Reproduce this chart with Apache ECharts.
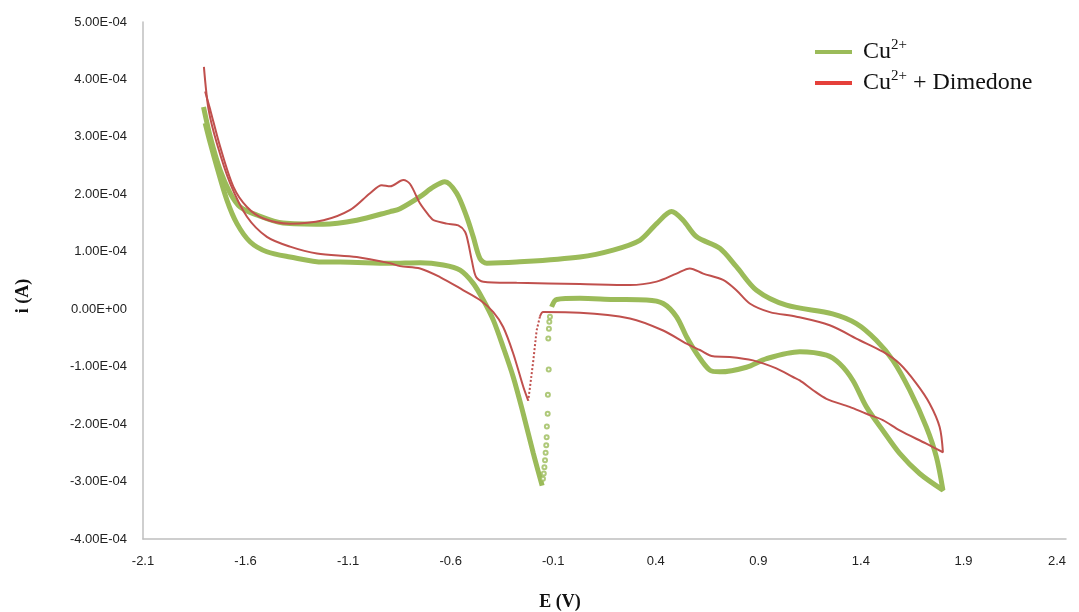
<!DOCTYPE html>
<html>
<head>
<meta charset="utf-8">
<title>Cyclic voltammogram</title>
<script src="https://cdn.jsdelivr.net/npm/echarts@6/dist/echarts.min.js"></script>
<style>
  html, body { margin: 0; padding: 0; background: #ffffff; }
  #chart { width: 1079px; height: 612px; }
</style>
</head>
<body>
<div id="chart"></div>
<script>
// Potential (V) tick labels on the horizontal axis
const xTicks = [-2.1, -1.6, -1.1, -0.6, -0.1, 0.4, 0.9, 1.4, 1.9, 2.4];

// Currents below are in units of 1e-4 A: pairs of [E (V), i]
const I_UNIT = 1e-4;

// Cu2+ : scan from -1.8 V to +1.8 V and back to the cathodic jump
const cuScanA = [
  [-1.805, 3.52], [-1.772, 3.00], [-1.724, 2.42], [-1.675, 2.02], [-1.626, 1.78],
  [-1.545, 1.64], [-1.417, 1.50], [-1.222, 1.48], [-1.058, 1.55], [-0.895, 1.70],
  [-0.847, 1.75], [-0.749, 1.96], [-0.684, 2.13], [-0.628, 2.22], [-0.571, 2.02],
  [-0.522, 1.61], [-0.490, 1.26], [-0.457, 0.88], [-0.424, 0.80], [-0.278, 0.82],
  [0.030, 0.91], [0.192, 1.03], [0.322, 1.20], [0.404, 1.49], [0.477, 1.70],
  [0.533, 1.55], [0.599, 1.26], [0.712, 1.06], [0.793, 0.74], [0.891, 0.33],
  [1.037, 0.07], [1.262, -0.08], [1.378, -0.25], [1.475, -0.54], [1.556, -0.89],
  [1.638, -1.41], [1.719, -2.05], [1.768, -2.57], [1.800, -3.15],
  [1.686, -2.86], [1.589, -2.51], [1.507, -2.11], [1.427, -1.70], [1.361, -1.24],
  [1.297, -0.95], [1.232, -0.80], [1.102, -0.74], [0.940, -0.86], [0.842, -1.01],
  [0.712, -1.09], [0.663, -1.06], [0.599, -0.77], [0.550, -0.48], [0.501, -0.13],
  [0.436, 0.10], [0.355, 0.16], [0.192, 0.17], [0.030, 0.19], [-0.083, 0.17],
  [-0.108, 0.04]
];

// Cu2+ : sparse points of the fast cathodic drop
const cuJump = [
  [-0.116, -0.13], [-0.119, -0.22], [-0.121, -0.34], [-0.124, -0.51], [-0.122, -1.05],
  [-0.126, -1.49], [-0.127, -1.82], [-0.131, -2.04], [-0.132, -2.23], [-0.134, -2.37],
  [-0.137, -2.50], [-0.140, -2.63], [-0.143, -2.75], [-0.146, -2.86], [-0.150, -2.95]
];

// Cu2+ : from the cathodic minimum back to -1.8 V
const cuScanB = [
  [-0.154, -3.07], [-0.197, -2.51], [-0.246, -1.82], [-0.295, -1.18], [-0.344, -0.66],
  [-0.392, -0.19], [-0.441, 0.16], [-0.490, 0.45], [-0.554, 0.68], [-0.636, 0.77],
  [-0.749, 0.81], [-0.895, 0.80], [-1.139, 0.82], [-1.222, 0.82], [-1.383, 0.91],
  [-1.496, 1.00], [-1.577, 1.17], [-1.642, 1.49], [-1.691, 1.90], [-1.740, 2.48],
  [-1.772, 2.89], [-1.797, 3.24]
];

// Cu2+ + Dimedone : forward scan and return to the cathodic jump
const dimScanA = [
  [-1.797, 3.79], [-1.772, 3.47], [-1.724, 2.83], [-1.659, 2.13], [-1.593, 1.78],
  [-1.513, 1.58], [-1.383, 1.49], [-1.220, 1.55], [-1.090, 1.73], [-0.993, 2.02],
  [-0.936, 2.16], [-0.895, 2.14], [-0.831, 2.25], [-0.798, 2.18], [-0.749, 1.84],
  [-0.701, 1.61], [-0.684, 1.55], [-0.620, 1.49], [-0.563, 1.46], [-0.530, 1.35],
  [-0.514, 1.15], [-0.497, 0.85], [-0.476, 0.56], [-0.441, 0.48], [-0.278, 0.46],
  [0.030, 0.44], [0.274, 0.42], [0.404, 0.48], [0.501, 0.62], [0.566, 0.71],
  [0.631, 0.62], [0.728, 0.51], [0.793, 0.33], [0.858, 0.10], [0.956, -0.05],
  [1.086, -0.13], [1.248, -0.28], [1.394, -0.54], [1.507, -0.74], [1.589, -0.95],
  [1.670, -1.29], [1.735, -1.64], [1.784, -2.05], [1.800, -2.49],
  [1.719, -2.34], [1.589, -2.11], [1.507, -1.93], [1.427, -1.82], [1.345, -1.70],
  [1.232, -1.56], [1.167, -1.41], [1.102, -1.24], [1.069, -1.18], [0.988, -1.03],
  [0.874, -0.89], [0.761, -0.83], [0.680, -0.82], [0.615, -0.71], [0.550, -0.60],
  [0.436, -0.37], [0.274, -0.16], [0.030, -0.06], [-0.149, -0.05], [-0.165, -0.13]
];

// Cu2+ + Dimedone : sparse points of the cathodic drop
const dimJump = [
  [-0.165, -0.13], [-0.181, -0.37], [-0.197, -0.89], [-0.213, -1.35], [-0.222, -1.59]
];

// Cu2+ + Dimedone : from the cathodic minimum back to -1.8 V
const dimScanB = [
  [-0.222, -1.59], [-0.246, -1.35], [-0.295, -0.77], [-0.344, -0.31], [-0.392, -0.05],
  [-0.457, 0.16], [-0.538, 0.33], [-0.652, 0.56], [-0.749, 0.71], [-0.847, 0.75],
  [-0.895, 0.80], [-1.058, 0.91], [-1.252, 0.97], [-1.383, 1.09], [-1.496, 1.26],
  [-1.593, 1.61], [-1.675, 2.19], [-1.740, 2.89], [-1.780, 3.47], [-1.803, 4.22]
];

const GREEN = '#9BBB59';
const RED = '#C0504D';
const NAME_CU = 'Cu2+';
const NAME_DIM = 'Cu2+ + Dimedone';

const toAmps = pts => pts.map(([e, i]) => [e, i * I_UNIT]);

// 5.00E-04 style labels
function sci(v) {
  if (Math.abs(v) < 1e-12) v = 0;
  const parts = v.toExponential(2).split('e');
  const n = parseInt(parts[1], 10);
  return parts[0] + 'E' + (n < 0 ? '-' : '+') + String(Math.abs(n)).padStart(2, '0');
}

const tickFont = { fontFamily: 'Liberation Sans', fontSize: 13, color: '#222' };
const axisLine = { show: true, onZero: false, lineStyle: { color: '#bfbfbf', width: 1.5 } };

const cuLine = data => ({
  name: NAME_CU, type: 'line', data: toAmps(data), smooth: 0.3,
  showSymbol: false, lineStyle: { color: GREEN, width: 5 }, itemStyle: { color: GREEN },
  z: 2, silent: true
});
const dimLine = (data, dotted) => ({
  name: NAME_DIM, type: 'line', data: toAmps(data), smooth: dotted ? 0 : 0.3,
  showSymbol: false, lineStyle: { color: RED, width: 2, type: dotted ? 'dotted' : 'solid' },
  itemStyle: { color: RED }, z: 3, silent: true
});

const chart = echarts.init(document.getElementById('chart'), null, { renderer: 'canvas' });
chart.setOption({
  animation: false,
  backgroundColor: '#ffffff',
  grid: { left: 143, right: 13, top: 22, bottom: 73 },
  xAxis: {
    type: 'value', min: -2.1, max: 2.4,
    axisLine: axisLine, axisTick: { show: false }, splitLine: { show: false },
    axisLabel: Object.assign({
      customValues: xTicks, margin: 16, alignMaxLabel: 'right',
      formatter: v => v.toFixed(1)
    }, tickFont)
  },
  yAxis: {
    type: 'value', min: -4e-4, max: 5e-4, interval: 1e-4,
    axisLine: axisLine, axisTick: { show: false }, splitLine: { show: false },
    axisLabel: Object.assign({ margin: 16, formatter: sci }, tickFont)
  },
  legend: {
    orient: 'vertical', left: 810, top: 33, itemWidth: 37, itemHeight: 4, itemGap: 5,
    icon: 'rect', selectedMode: false,
    data: [
      { name: NAME_CU, itemStyle: { color: GREEN } },
      { name: NAME_DIM, itemStyle: { color: '#E5403A' } }
    ],
    formatter: name => name === NAME_CU ? '{b|Cu}{s|2+}' : '{b|Cu}{s|2+}{b| + Dimedone}',
    textStyle: {
      padding: [0, 0, 0, 6],
      rich: {
        b: { fontFamily: 'Liberation Serif', fontSize: 24, color: '#111', lineHeight: 28 },
        s: { fontFamily: 'Liberation Serif', fontSize: 15, color: '#111', lineHeight: 17, verticalAlign: 'top' }
      }
    }
  },
  graphic: [
    {
      type: 'text', x: 560, y: 602,
      style: { text: 'E (V)', font: 'bold 18px "Liberation Serif"', fill: '#111', align: 'center', verticalAlign: 'middle' }
    },
    {
      type: 'text', x: 23, y: 296, rotation: Math.PI / 2,
      style: { text: 'i (A)', font: 'bold 18px "Liberation Serif"', fill: '#111', align: 'center', verticalAlign: 'middle' }
    }
  ],
  series: [
    cuLine(cuScanA),
    cuLine(cuScanB),
    {
      name: NAME_CU, type: 'scatter', data: toAmps(cuJump), symbol: 'emptyCircle', symbolSize: 4,
      itemStyle: { color: GREEN, borderColor: GREEN, borderWidth: 1.5 }, z: 2, silent: true
    },
    dimLine(dimScanA, false),
    dimLine(dimJump, true),
    dimLine(dimScanB, false)
  ]
});
</script>
</body>
</html>
